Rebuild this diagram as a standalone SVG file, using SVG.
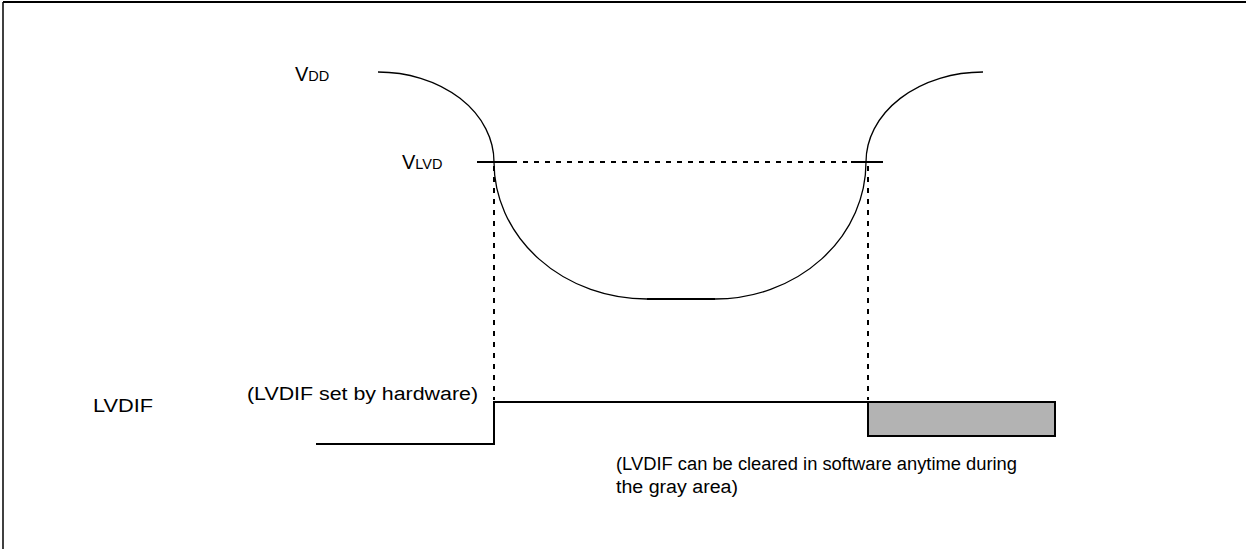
<svg xmlns="http://www.w3.org/2000/svg" width="1246" height="549" viewBox="0 0 1246 549">
<style>
.t{font-family:"Liberation Sans",Arial,sans-serif;fill:#000}
.s{fill:none;stroke:#000}
.d{fill:none;stroke:#000;stroke-width:2;stroke-dasharray:5 6}
</style>
<rect width="1246" height="549" fill="#fff"/>
<g id="frame">
<line x1="3" y1="2" x2="1246" y2="2" class="s" stroke-width="2"/>
<line x1="3" y1="2" x2="3" y2="549" class="s" stroke-width="1.5"/>
</g>
<g id="connectors">
<line x1="512" y1="162" x2="851" y2="162" class="d"/>
<line x1="494" y1="166" x2="494" y2="400" class="d"/>
<line x1="868" y1="166" x2="868" y2="400" class="d"/>
</g>
<g id="vdd-curve">
<path class="s" stroke-width="1.3" d="M378,72 A116,90 0 0 1 494,162 A153,137 0 0 0 647,299 L715,299 A151,137 0 0 0 866,162 A117,90 0 0 1 983,72"/>
<line x1="647" y1="299" x2="715" y2="299" class="s" stroke-width="2"/>
<line x1="477" y1="162" x2="512" y2="162" class="s" stroke-width="2"/>
<line x1="851" y1="162" x2="883" y2="162" class="s" stroke-width="2"/>
</g>
<g id="labels">
<text class="t" x="295" y="81"><tspan font-size="20">V</tspan><tspan font-size="14.5">DD</tspan></text>
<text class="t" x="402" y="169"><tspan font-size="20">V</tspan><tspan font-size="14.5">LVD</tspan></text>
<text class="t" x="93" y="412" font-size="18" textLength="60" lengthAdjust="spacingAndGlyphs">LVDIF</text>
<text class="t" x="247" y="400" font-size="18" textLength="231" lengthAdjust="spacingAndGlyphs">(LVDIF set by hardware)</text>
<text class="t" x="616" y="470" font-size="18" textLength="401" lengthAdjust="spacingAndGlyphs">(LVDIF can be cleared in software anytime during</text>
<text class="t" x="616" y="493" font-size="18" textLength="122" lengthAdjust="spacingAndGlyphs">the gray area)</text>
</g>
<g id="lvdif-signal">
<polyline class="s" stroke-width="2" points="316,444 494,444 494,402 868,402"/>
<rect x="868" y="402" width="187" height="34" fill="#b3b3b3" stroke="#000" stroke-width="2"/>
</g>
</svg>
